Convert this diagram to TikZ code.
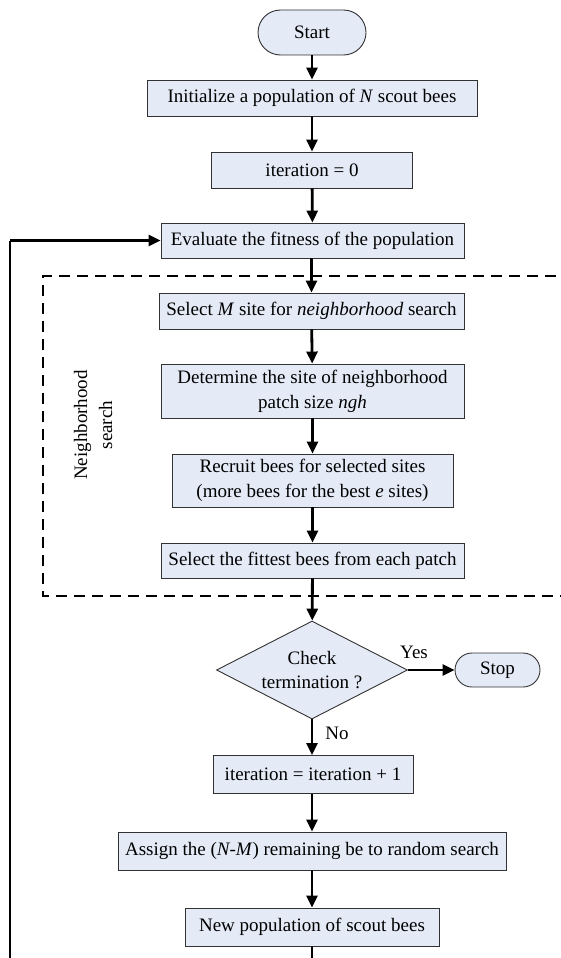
\documentclass[tikz,border=0pt]{standalone}
\usepackage{fontspec}
\setmainfont{Liberation Serif}
\usetikzlibrary{shapes.geometric,arrows.meta}
\definecolor{boxfill}{RGB}{228,235,247}
\definecolor{boxline}{RGB}{50,50,50}
\tikzset{
  box/.style={draw=boxline, fill=boxfill, line width=0.9pt, inner sep=0pt,
    align=center, font=\fontsize{19}{25}\selectfont},
  term/.style={box},
  arr/.style={line width=2.8pt, -{Triangle[length=12pt,width=11pt]}},
  loopline/.style={line width=2.8pt},
  lbl/.style={font=\fontsize{19}{25}\selectfont, inner sep=0pt}
}
\begin{document}
\begin{tikzpicture}[x=1pt,y=-1pt]
\useasboundingbox (0,0) rectangle (561,958);
% dashed group
\draw[line width=1.8pt, dash pattern=on 11pt off 7pt] (574,276) -- (43,276) -- (43,596) -- (574,596);
\node[lbl, rotate=90, align=center] (nlabel) at (93,425) {Neighborhood\\search};

\node[term, rounded corners=22.5pt, minimum width=108pt, minimum height=45pt] (start) at (312,32.5) {Start};
\node[box, minimum width=330pt, minimum height=36pt] (init) at (312,98) {Initialize a population of \textit{N} scout bees};
\node[box, minimum width=201pt, minimum height=36pt] (it0) at (312,170) {iteration = 0};
\node[box, minimum width=303pt, minimum height=35pt] (eval) at (312.5,240.5) {Evaluate the fitness of the population};
\node[box, minimum width=305pt, minimum height=36pt] (selm) at (311.5,311) {Select \textit{M} site for \textit{neighborhood} search};
\node[box, minimum width=303pt, minimum height=54pt] (det) at (312.5,391) {Determine the site of neighborhood\\patch size \textit{ngh}};
\node[box, minimum width=281pt, minimum height=53pt] (rec) at (312.5,480.5) {Recruit bees for selected sites\\(more bees for the best \textit{e} sites)};
\node[box, minimum width=303pt, minimum height=35pt] (fit) at (312.5,560.5) {Select the fittest bees from each patch};
\node[box, diamond, aspect=1.95, minimum width=191pt, minimum height=98pt, font=\fontsize{19}{24}\selectfont] (chk) at (312,670) {Check\\termination ?};
\node[term, rounded corners=17pt, minimum width=85pt, minimum height=34pt] (stop) at (497.5,670) {Stop};
\node[box, minimum width=200pt, minimum height=38pt] (it1) at (313,774.5) {iteration = iteration + 1};
\node[box, minimum width=388pt, minimum height=38pt] (asg) at (312,851) {Assign the (\textit{N-M}) remaining be to random search};
\node[box, minimum width=254pt, minimum height=38pt] (newp) at (312,927) {New population of scout bees};

\node[lbl] (yes) at (414,652) {Yes};
\node[lbl] (no) at (337,733) {No};

\draw[arr] (start) -- (init);
\draw[arr] (init) -- (it0);
\draw[arr] (it0) -- (eval);
\draw[arr] (eval.south -| selm.north) -- (selm);
\draw[arr] (selm) -- (det);
\draw[arr] (det) -- (rec);
\draw[arr] (rec) -- (fit);
\draw[arr] (fit) -- (chk);
\draw[arr] (chk.east) -- (stop.west);
\draw[arr] (chk.south) -- (chk.south |- it1.north);
\draw[arr] (it1.south -| asg.north) -- (asg);
\draw[arr] (asg) -- (newp);
\coordinate (c1) at (312,975);
\coordinate (c2) at (10,975);
\draw[loopline] (newp.south) -- (c1) -- (c2) -- (c2 |- eval.west);
\draw[arr] (c2 |- eval.west) -- (eval.west);
\end{tikzpicture}
\end{document}
